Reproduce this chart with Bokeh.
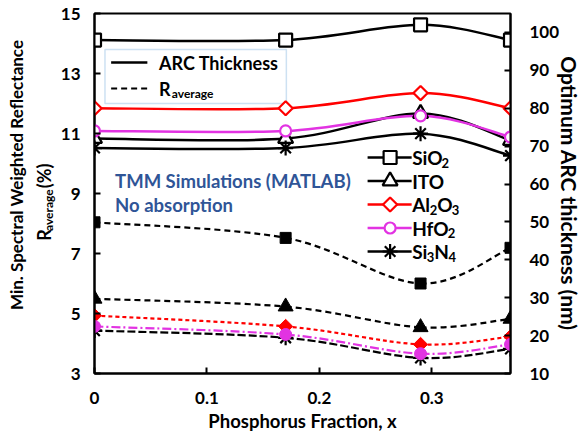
import math
from bokeh.plotting import figure
from bokeh.layouts import row
from bokeh.models import Range1d, LinearAxis, FixedTicker, Label, BoxAnnotation
from bokeh.embed import file_html
from bokeh.resources import INLINE
from bokeh.core.properties import value

# ---------------- data ----------------
x_frac = [0, 0.17, 0.29, 0.37]
x_ticks = [0, 0.1, 0.2, 0.3]
x_tick_labels = ["0", "0.1", "0.2", "0.3"]
left_ticks = [3, 5, 7, 9, 11, 13, 15]
right_ticks = [10, 20, 30, 40, 50, 60, 70, 80, 90, 100]

# optimum ARC thickness (nm) -> right axis, solid lines
thk_SiO2 = [98, 98, 102, 98]
thk_ITO = [72, 72, 78.6, 71.5]
thk_Al2O3 = [80, 80, 84, 80]
thk_HfO2 = [74, 74, 78, 72.4]
thk_Si3N4 = [69.5, 69.5, 73.3, 67.5]

# R_average (%) -> left axis, dashed lines
r_SiO2 = [8.04, 7.52, 6.0, 7.19]
r_ITO = [5.49, 5.23, 4.54, 4.82]
r_Al2O3 = [4.93, 4.57, 3.97, 4.23]
r_HfO2 = [4.57, 4.3, 3.66, 3.97]
r_Si3N4 = [4.43, 4.19, 3.52, 3.82]

FONT = "Lato"
BLUE_TXT = "#2f5597"
RED = "#ff0000"
MAG = "#e233e2"

# page-pixel layout (used only to place annotations)
LW = 57                       # width of the side panel holding the left title
FL, FR, FT, FB = 91.0, 516.0, 13.0, 373.0
XS = (FR - FL) / 0.37
YSL = (FB - FT) / 12.0


def dx(px):
    return (px - FL) / XS


def dyl(py):
    return 3 + (FB - py) / YSL


p = figure(width=585 - LW, height=437,
           x_range=Range1d(0, 0.37), y_range=Range1d(3, 15),
           output_backend="svg", toolbar_location=None,
           min_border_left=int(FL - LW), min_border_top=int(FT),
           min_border_right=int(585 - FR), min_border_bottom=int(437 - FB))
p.extra_y_ranges = {"right": Range1d(10, 105)}
p.xgrid.visible = False
p.ygrid.visible = False
p.outline_line_color = "black"
p.outline_line_width = 2
p.outline_line_alpha = 1
p.background_fill_color = "white"
p.border_fill_color = "white"

raxis = LinearAxis(y_range_name="right")
p.add_layout(raxis, "right")

for ax in [p.xaxis[0], p.yaxis[0], raxis]:
    ax.axis_line_width = 2
    ax.axis_line_color = "black"
    ax.major_tick_line_width = 2
    ax.major_tick_in = 6
    ax.major_tick_out = 0
    ax.minor_tick_line_color = None
    ax.major_label_text_font = FONT
    ax.major_label_text_font_style = "bold"
    ax.major_label_text_font_size = "17px"
    ax.major_label_text_color = "black"
    ax.axis_label_text_font = FONT
    ax.axis_label_text_font_style = "bold"
    ax.axis_label_text_font_size = "18.5px"
    ax.axis_label_text_color = "black"
    ax.axis_label_standoff = 0

p.xaxis.ticker = FixedTicker(ticks=x_ticks)
p.xaxis.major_label_overrides = {t: l for t, l in zip(x_ticks, x_tick_labels)}
p.xaxis.major_label_standoff = 18
p.xaxis.axis_label = "Phosphorus Fraction, x"
p.xaxis.axis_label_standoff = 3

p.yaxis[0].ticker = FixedTicker(ticks=left_ticks)
p.yaxis[0].major_label_standoff = 14
raxis.ticker = FixedTicker(ticks=right_ticks)
raxis.major_label_standoff = 19
raxis.axis_label = "Optimum ARC thickness (nm)"
raxis.axis_label_text_font_size = "21px"
raxis.axis_label_standoff = -5


def bez(xs, ys):
    n = len(xs)
    out = dict(x0=[], y0=[], x1=[], y1=[], cx0=[], cy0=[], cx1=[], cy1=[])
    for i in range(n - 1):
        a = max(i - 1, 0)
        d = min(i + 2, n - 1)
        out["x0"].append(xs[i]); out["y0"].append(ys[i])
        out["x1"].append(xs[i + 1]); out["y1"].append(ys[i + 1])
        out["cx0"].append(xs[i] + (xs[i + 1] - xs[a]) / 6)
        out["cy0"].append(ys[i] + (ys[i + 1] - ys[a]) / 6)
        out["cx1"].append(xs[i + 1] - (xs[d] - xs[i]) / 6)
        out["cy1"].append(ys[i + 1] - (ys[d] - ys[i]) / 6)
    return out


series = [
    # name, thickness, R, color, marker, hollow size, filled size, angle, dash
    ("SiO2", thk_SiO2, r_SiO2, "black", "square", 13, 11, 0, "6 4"),
    ("ITO", thk_ITO, r_ITO, "black", "triangle", 15, 15, 0, "6 4"),
    ("Al2O3", thk_Al2O3, r_Al2O3, RED, "square", 10, 10, math.pi / 4, "4 3"),
    ("Si3N4", thk_Si3N4, r_Si3N4, "black", "asterisk", 15, 15, 0, "8 3"),
    ("HfO2", thk_HfO2, r_HfO2, MAG, "circle", 11, 12, 0, "9 3 2 3"),
]

# solid thickness curves (right axis)
for name, thk, r, col, mk, s1, s2, ang, dash in series:
    p.bezier(line_color=col, line_width=2.5, y_range_name="right", **bez(x_frac, thk))
for name, thk, r, col, mk, s1, s2, ang, dash in series:
    p.scatter(x_frac, thk, marker=mk, size=s1, angle=ang, line_color=col,
              line_width=2.2, fill_color="white", y_range_name="right")

# dashed R_average curves (left axis)
for name, thk, r, col, mk, s1, s2, ang, dash in series:
    p.bezier(line_color=col, line_width=2.2, line_dash=dash, **bez(x_frac, r))
for name, thk, r, col, mk, s1, s2, ang, dash in series:
    p.scatter(x_frac, r, marker=mk, size=s2, angle=ang, line_color=col,
              line_width=2.2 if mk == "asterisk" else 1, fill_color=col)


def lab(x, y, text, size=16, color="black"):
    p.add_layout(Label(x=x, y=y, text=text, text_font=FONT, text_font_style="bold",
                       text_font_size=f"{size}px", text_color=color,
                       text_align="left", text_baseline="middle"))


# ---- legend box: ARC thickness / R_average ----
p.add_layout(BoxAnnotation(left=dx(101.7), right=dx(287), top=dyl(49), bottom=dyl(103),
                           fill_color="white", fill_alpha=1, line_color="#5b9bd5",
                           line_width=1.5, level="underlay"))
p.segment(x0=[dx(108)], y0=[dyl(62)], x1=[dx(145)], y1=[dyl(62)], line_color="black", line_width=2.5)
p.segment(x0=[dx(108)], y0=[dyl(88)], x1=[dx(145)], y1=[dyl(88)], line_color="black", line_width=2.2,
          line_dash="6 4")
lab(dx(157), dyl(62), "ARC Thickness", 18)
lab(dx(157), dyl(88), "R", 18)
lab(dx(170), dyl(93), "average", 12)

# ---- annotation text ----
lab(dx(112), dyl(180), "TMM Simulations (MATLAB)", 18.5, BLUE_TXT)
lab(dx(112), dyl(204), "No absorption", 18.5, BLUE_TXT)

# ---- material legend ----
leg_y = [157, 180.5, 204, 227.5, 251]
leg_items = [
    (["SiO", "2"], "black", "square", 13, 0),
    (["ITO"], "black", "triangle", 15, 0),
    (["Al", "2", "O", "3"], RED, "square", 10, math.pi / 4),
    (["HfO", "2"], MAG, "circle", 11, 0),
    (["Si", "3", "N", "4"], "black", "asterisk", 15, 0),
]
W = {'S': 0.53, 'i': 0.26, 'O': 0.79, 'I': 0.29, 'T': 0.59, 'A': 0.69, 'l': 0.26,
     'H': 0.77, 'f': 0.36, 'N': 0.77, '2': 0.58, '3': 0.58, '4': 0.58}
for yy, (parts, col, mk, sz, ang) in zip(leg_y, leg_items):
    p.segment(x0=[dx(370)], y0=[dyl(yy)], x1=[dx(415)], y1=[dyl(yy)], line_color=col, line_width=2.5)
    p.scatter([dx(393)], [dyl(yy)], marker=mk, size=sz, angle=ang, line_color=col,
              line_width=2.2, fill_color="white")
    xp = 415.5
    for k, part in enumerate(parts):
        sub = (k % 2 == 1)
        fs = 13 if sub else 19
        lab(dx(xp), dyl(yy + (5 if sub else 0)), part, fs)
        xp += sum(W.get(c, 0.55) for c in part) * fs

# ---- side panel with the two-line left axis title ----
side = figure(width=LW, height=437, x_range=Range1d(0, LW), y_range=Range1d(0, 437),
              output_backend="svg", toolbar_location=None, min_border=0)
side.axis.visible = False
side.xgrid.visible = False
side.ygrid.visible = False
side.outline_line_color = None
side.border_fill_color = "white"


def stext(xp, yp, text, size, align="left"):
    side.text(x=[xp], y=[437 - yp], text=[text], angle=math.pi / 2,
              text_font=value(FONT), text_font_style="bold", text_font_size=f"{size}px",
              text_color="black", text_align=align, text_baseline="middle")


stext(16, 196, "Min. Spectral Weighted Reflectance", 17, "center")
r_start = 276
stext(43, r_start, "R", 18)
stext(48, r_start - 12, "average", 12)
stext(43, r_start - 12 - 52, "(%)", 18)

layout = row(side, p)
open("out.html", "w").write(file_html(layout, INLINE))
